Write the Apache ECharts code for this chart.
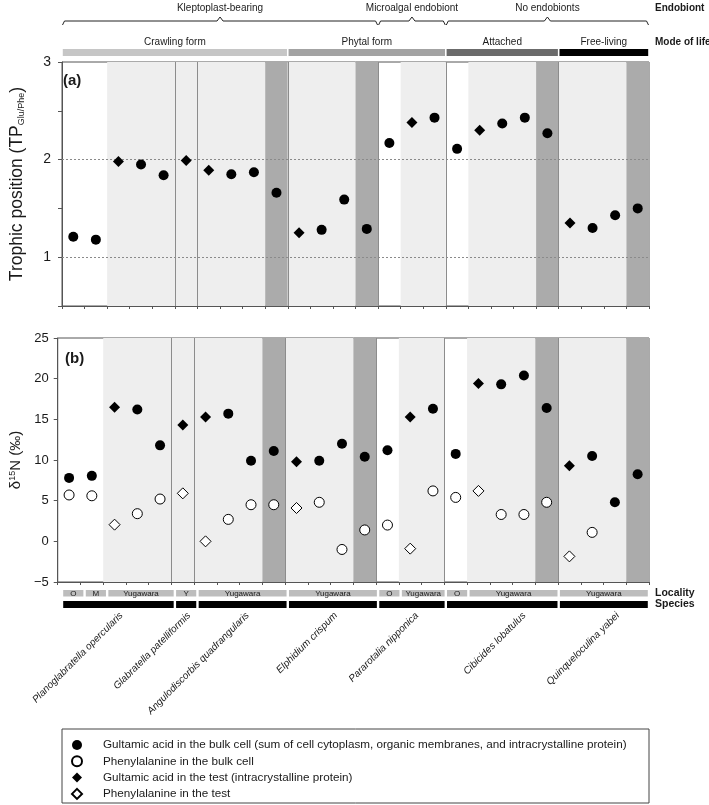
<!DOCTYPE html>
<html>
<head>
<meta charset="utf-8">
<script src="https://cdn.jsdelivr.net/npm/echarts@6/dist/echarts.min.js"></script>
<style>
  html, body { margin: 0; padding: 0; background: #fff; }
  #chart { width: 709px; height: 805px; }
</style>
</head>
<body>
<div id="chart"></div>
<script>
// one entry per sample column (26 columns, left to right)
const material = ['bulk', 'bulk', 'test', 'bulk', 'bulk', 'test', 'test', 'bulk', 'bulk', 'bulk',
  'test', 'bulk', 'bulk', 'bulk', 'bulk', 'test', 'bulk', 'bulk', 'test', 'bulk',
  'bulk', 'bulk', 'test', 'bulk', 'bulk', 'bulk']
const shade = ['w', 'w', 'l', 'l', 'l', 'l', 'l', 'l', 'l', 'd',
  'l', 'l', 'l', 'd', 'w', 'l', 'l', 'w', 'l', 'l',
  'l', 'd', 'l', 'l', 'l', 'd']
const tpGlu = [1.21, 1.18, 1.98, 1.95, 1.84, 1.99, 1.89, 1.85, 1.87, 1.66,
  1.25, 1.28, 1.59, 1.29, 2.17, 2.38, 2.43, 2.11, 2.30, 2.37,
  2.43, 2.27, 1.35, 1.30, 1.43, 1.50]
const d15Glu = [7.8, 8.05, 16.5, 16.2, 11.8, 14.3, 15.3, 15.7, 9.9, 11.1,
  9.8, 9.9, 12.0, 10.4, 11.2, 15.3, 16.3, 10.75, 19.4, 19.3,
  20.4, 16.4, 9.3, 10.5, 4.8, 8.25]
const d15Phe = [5.7, 5.6, 2.05, 3.4, 5.2, 5.9, 0.0, 2.7, 4.5, 4.5,
  4.1, 4.8, -1.0, 1.4, 2.0, -0.9, 6.2, 5.4, 6.2, 3.3,
  3.3, 4.8, -1.85, 1.1, null, null]

const speciesNames = ['Planoglabratella opercularis', 'Glabratella patelliformis', 'Angulodiscorbis quadrangularis',
  'Elphidium crispum', 'Pararotalia nipponica', 'Cibicides lobatulus', 'Quinqueloculina yabei']
const speciesSlots = [[0, 5], [5, 6], [6, 10], [10, 14], [14, 17], [17, 22], [22, 26]]
const localityNames = ['O', 'M', 'Yugawara', 'Y', 'Yugawara', 'Yugawara', 'O', 'Yugawara', 'O', 'Yugawara', 'Yugawara']
const localitySlots = [[0, 1], [1, 2], [2, 5], [5, 6], [6, 10], [10, 14], [14, 15], [15, 17], [17, 18], [18, 22], [22, 26]]
const endobiontNames = ['Kleptoplast-bearing', 'Microalgal endobiont', 'No endobionts']
const endobiontSlots = [[0, 14], [14, 17], [17, 26]]
const modeNames = ['Crawling form', 'Phytal form', 'Attached', 'Free-living']
const modeSlots = [[0, 10], [10, 17], [17, 22], [22, 26]]
const legendNames = [
  'Gultamic acid in the bulk cell (sum of cell cytoplasm, organic membranes, and intracrystalline protein)',
  'Phenylalanine in the bulk cell',
  'Gultamic acid in the test (intracrystalline protein)',
  'Phenylalanine in the test'
]

const FONT = '"Liberation Sans", Arial, sans-serif'
const INK = '#1a1a1a'
const AXIS = '#555'
const shadeColors = { l: '#eeeeee', d: '#ababab' }
const modeColors = ['#c6c6c6', '#a3a3a3', '#6b6b6b', '#000']
const speciesLabelNudge = [3, 3, 5, 3, 5, 22, 14]

const chart = echarts.init(document.getElementById('chart'))

function slotPoints(values, kind) {
  const out = []
  values.forEach((v, i) => {
    if (v != null && material[i] === kind) out.push([i + 0.5, v])
  })
  return out
}

function scatter(name, grid, values, kind, filled) {
  return {
    name: name,
    type: 'scatter',
    xAxisIndex: grid,
    yAxisIndex: grid,
    z: 3,
    symbol: kind === 'bulk' ? 'circle' : 'diamond',
    symbolSize: kind === 'bulk' ? 10 : 11,
    itemStyle: filled
      ? { color: '#000', opacity: 1 }
      : { color: '#fff', borderColor: '#000', borderWidth: 1, opacity: 1 },
    emphasis: { disabled: true },
    data: slotPoints(values, kind)
  }
}

function backdrop(grid, extraLines) {
  // merge neighbouring columns of the same shade into one band
  const areas = []
  let i = 0
  while (i < shade.length) {
    let j = i
    while (j + 1 < shade.length && shade[j + 1] === shade[i]) j++
    if (shade[i] !== 'w') {
      areas.push([{ xAxis: i, itemStyle: { color: shadeColors[shade[i]], opacity: 1 } }, { xAxis: j + 1 }])
    }
    i = j + 1
  }
  const lines = speciesSlots.slice(1).map(([s]) => ({
    xAxis: s, lineStyle: { color: '#8c8c8c', type: 'solid', width: 1 }
  }))
  return {
    type: 'scatter',
    xAxisIndex: grid,
    yAxisIndex: grid,
    data: [],
    silent: true,
    z: 1,
    markArea: { silent: true, z: 1, data: areas },
    markLine: { silent: true, z: 2, symbol: 'none', label: { show: false }, data: lines.concat(extraLines) }
  }
}

const xAxes = [0, 1].map(gi => ({
  type: 'value', gridIndex: gi, min: 0, max: 26, interval: 1,
  axisLine: { show: true, onZero: false, lineStyle: { color: AXIS } },
  axisTick: { show: true, length: 3, lineStyle: { color: AXIS } },
  axisLabel: { show: false },
  splitLine: { show: false }
}))

const yAxes = [
  {
    type: 'value', gridIndex: 0, min: 0.5, max: 3, interval: 0.5,
    axisLine: { show: true, lineStyle: { color: AXIS } },
    axisTick: { show: true, length: 4, lineStyle: { color: AXIS } },
    axisLabel: {
      fontSize: 14, fontFamily: FONT, color: INK, margin: 11,
      formatter: v => (v >= 1 && v % 1 === 0 ? String(v) : '')
    },
    splitLine: { show: false },
    name: '{t|Trophic position (TP}{s|Glu/Phe}{t|)}',
    nameLocation: 'middle', nameRotate: 90, nameGap: 36,
    nameTextStyle: {
      rich: {
        t: { fontSize: 17.5, fontFamily: FONT, color: INK },
        s: { fontSize: 9, fontFamily: FONT, color: INK, verticalAlign: 'bottom' }
      }
    }
  },
  {
    type: 'value', gridIndex: 1, min: -5, max: 25, interval: 5,
    axisLine: { show: true, lineStyle: { color: AXIS } },
    axisTick: { show: true, length: 4, lineStyle: { color: AXIS } },
    axisLabel: {
      fontSize: 13, fontFamily: FONT, color: INK, margin: 9,
      formatter: v => String(v).replace('-', '\u2212')
    },
    splitLine: { show: false },
    name: '{t|δ}{p|15}{t|N (‰)}',
    nameLocation: 'middle', nameRotate: 90, nameGap: 34,
    nameTextStyle: {
      rich: {
        t: { fontSize: 15, fontFamily: FONT, color: INK },
        p: { fontSize: 9, fontFamily: FONT, color: INK, verticalAlign: 'top' }
      }
    }
  }
]

const tpGrid = [1, 2].map(v => ({ yAxis: v, lineStyle: { color: '#8a8a8a', type: [2, 2], width: 1 } }))

const option = {
  animation: false,
  backgroundColor: '#fff',
  textStyle: { fontFamily: FONT },
  grid: [
    { left: 57, right: 60, top: 62, height: 244, show: true, borderColor: AXIS, borderWidth: 1 },
    { left: 57, right: 60, top: 338, height: 244, show: true, borderColor: AXIS, borderWidth: 1 }
  ],
  xAxis: xAxes,
  yAxis: yAxes,
  legend: {
    orient: 'vertical', left: 71, top: 739, padding: 0, height: 80,
    itemWidth: 10, itemHeight: 10, itemGap: 4.3,
    selectedMode: false,
    data: legendNames,
    textStyle: { fontSize: 11.7, lineHeight: 10, fontFamily: FONT, color: INK, padding: [0, 0, 0, 16] }
  },
  series: [
    backdrop(0, tpGrid),
    backdrop(1, []),
    scatter(legendNames[0], 0, tpGlu, 'bulk', true),
    scatter(legendNames[2], 0, tpGlu, 'test', true),
    scatter(legendNames[0], 1, d15Glu, 'bulk', true),
    scatter(legendNames[1], 1, d15Phe, 'bulk', false),
    scatter(legendNames[2], 1, d15Glu, 'test', true),
    scatter(legendNames[3], 1, d15Phe, 'test', false)
  ]
}

chart.setOption(option)

// annotations around the plot, placed through the x axis scale
const xp = v => chart.convertToPixel({ xAxisIndex: 0 }, v)
const g = []
const txt = (text, x, y, font, align, extra) => Object.assign({
  type: 'text', x: x, y: y, silent: true,
  style: { text: text, font: font, fill: INK, align: align || 'center', verticalAlign: 'middle' }
}, extra || {})

endobiontSlots.forEach(([s, e], k) => {
  const x0 = xp(s) + 0.5, x1 = xp(e) - 0.5, mid = (x0 + x1) / 2
  g.push({
    type: 'polyline', silent: true,
    shape: { points: [[x0, 25], [x0 + 2, 21], [mid - 3, 21], [mid, 17], [mid + 3, 21], [x1 - 2, 21], [x1, 25]] },
    style: { stroke: '#222', fill: null, lineWidth: 1 }
  })
  g.push(txt(endobiontNames[k], mid, 8, '10px ' + FONT))
})

modeSlots.forEach(([s, e], k) => {
  const x0 = xp(s) + 0.8, x1 = xp(e) - 0.8
  g.push({ type: 'rect', silent: true, shape: { x: x0, y: 49, width: x1 - x0, height: 7 }, style: { fill: modeColors[k] } })
  g.push(txt(modeNames[k], (x0 + x1) / 2, 42, '10px ' + FONT))
})

localitySlots.forEach(([s, e], k) => {
  const x0 = xp(s) + 1.2, x1 = xp(e) - 1.2
  g.push({ type: 'rect', silent: true, shape: { x: x0, y: 590, width: x1 - x0, height: 6.5 }, style: { fill: '#bdbdbd' } })
  g.push(txt(localityNames[k], (x0 + x1) / 2, 593.5, '8px ' + FONT))
})

speciesSlots.forEach(([s, e], k) => {
  const x0 = xp(s) + 1.2, x1 = xp(e) - 1.2
  g.push({ type: 'rect', silent: true, shape: { x: x0, y: 601, width: x1 - x0, height: 7 }, style: { fill: '#000' } })
  g.push(txt(speciesNames[k], (x0 + x1) / 2 + speciesLabelNudge[k], 614, 'italic 10px ' + FONT, 'right',
    { rotation: Math.PI / 4 }))
})

const rightX = xp(26) + 6
g.push(txt('Endobiont', rightX, 8, 'bold 10px ' + FONT, 'left'))
g.push(txt('Mode of life', rightX, 42, 'bold 10px ' + FONT, 'left'))
g.push(txt('Locality', rightX, 593, 'bold 10.5px ' + FONT, 'left'))
g.push(txt('Species', rightX, 604.5, 'bold 10.5px ' + FONT, 'left'))

g.push(txt('(a)', 63, 81, 'bold 15px ' + FONT, 'left'))
g.push(txt('(b)', 65, 359, 'bold 15px ' + FONT, 'left'))

// legend frame spans the plot width
g.push({
  type: 'rect', silent: true, z: -1,
  shape: { x: xp(0), y: 729, width: xp(26) - xp(0), height: 74 },
  style: { fill: null, stroke: '#444', lineWidth: 1 }
})

chart.setOption({ graphic: g })
</script>
</body>
</html>
